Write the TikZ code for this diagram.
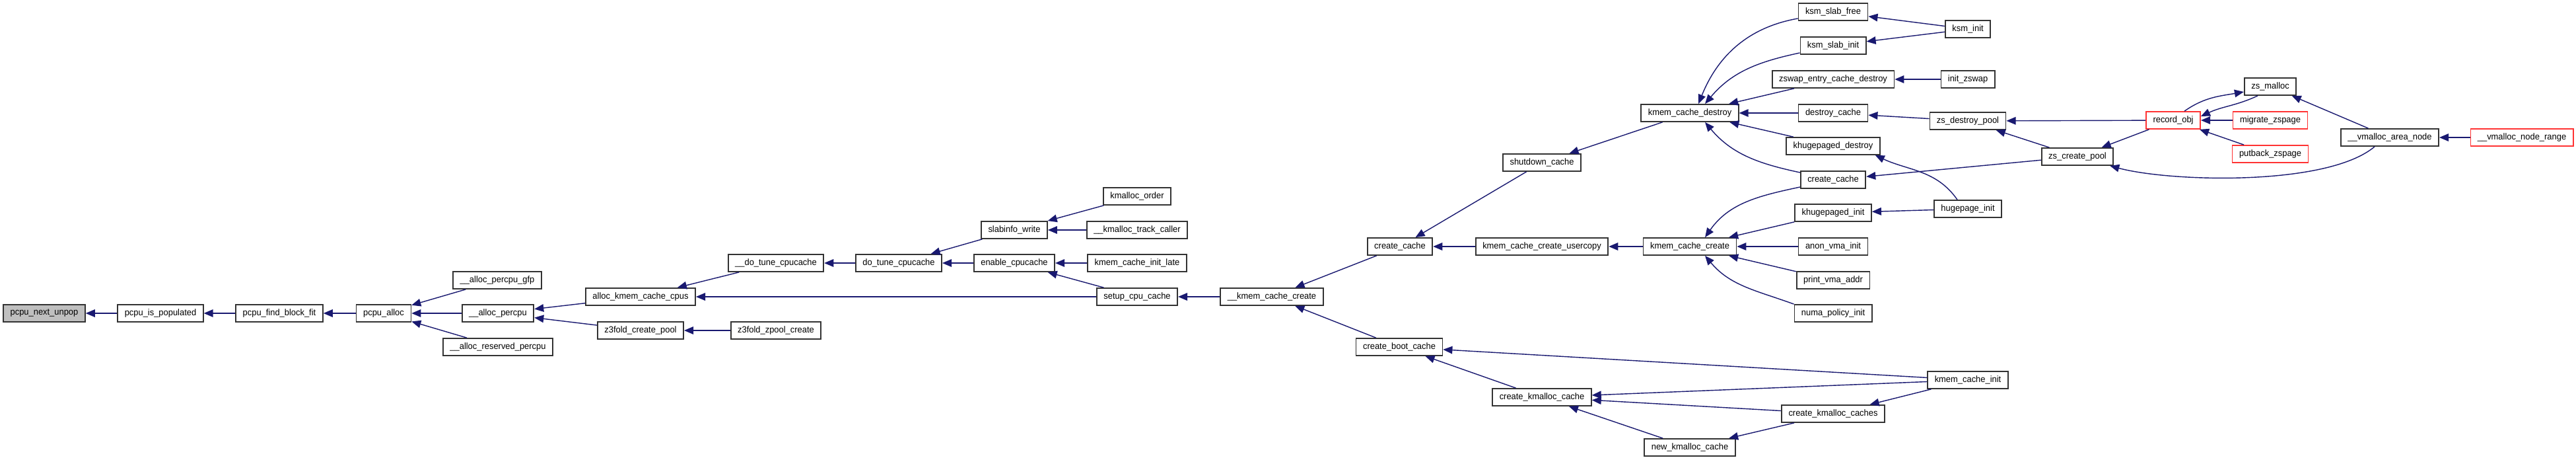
\documentclass[tikz,border=0pt]{standalone}
\usepackage{fontspec}
\setmainfont{Liberation Sans}[FakeStretch=0.955]
\usetikzlibrary{arrows.meta}

\definecolor{edgeblue}{HTML}{191970}
\definecolor{trunc}{HTML}{FF3333}
\definecolor{selfgray}{HTML}{BFBFBF}
\newcommand{\fnsize}{\fontsize{3.85pt}{4.5pt}\selectfont}

\begin{document}
\begin{tikzpicture}[
          fn/.style={draw=black!80, line width=0.5pt, fill=white, font=\fnsize,
            minimum height=0.26cm, inner xsep=0.105cm, inner ysep=0pt},
          fnred/.style={fn, draw=trunc},
          fnself/.style={fn, fill=selfgray},
          call/.style={edgeblue, line width=0.4pt, -{Triangle[length=4pt,width=3.3pt]}}
        ]
          \useasboundingbox (0,0) rectangle (39.01,-6.96);

          % Knoten
          \node[fnself] (nextunpop) at (0.67,-4.74) {pcpu\_next\_unpop};
          \node[fn] (ispop) at (2.43,-4.74) {pcpu\_is\_populated};
          \node[fn] (findfit) at (4.23,-4.74) {pcpu\_find\_block\_fit};
          \node[fn] (pcpualloc) at (5.81,-4.74) {pcpu\_alloc};
          \node[fn] (allocgfp) at (7.53,-4.24) {\_\_alloc\_percpu\_gfp};
          \node[fn] (allocpercpu) at (7.54,-4.74) {\_\_alloc\_percpu};
          \node[fn] (allocres) at (7.54,-5.25) {\_\_alloc\_reserved\_percpu};
          \node[fn] (allockmem) at (9.70,-4.49) {alloc\_kmem\_cache\_cpus};
          \node[fn] (zfoldpool) at (9.70,-5.00) {z3fold\_create\_pool};
          \node[fn] (dotunei) at (11.75,-3.98) {\_\_do\_tune\_cpucache};
          \node[fn] (zfoldzpool) at (11.75,-5.00) {z3fold\_zpool\_create};
          \node[fn] (dotune) at (13.61,-3.98) {do\_tune\_cpucache};
          \node[fn] (slabinfo) at (15.36,-3.48) {slabinfo\_write};
          \node[fn] (enablecc) at (15.36,-3.98) {enable\_cpucache};
          \node[fn] (kmorder) at (17.22,-2.97) {kmalloc\_order};
          \node[fn] (kmtrack) at (17.22,-3.48) {\_\_kmalloc\_track\_caller};
          \node[fn] (initlate) at (17.22,-3.98) {kmem\_cache\_init\_late};
          \node[fn] (setupcc) at (17.22,-4.49) {setup\_cpu\_cache};
          \node[fn] (kccreatei) at (19.26,-4.49) {\_\_kmem\_cache\_create};
          \node[fn] (createcache) at (21.20,-3.73) {create\_cache};
          \node[fn] (bootcache) at (21.19,-5.25) {create\_boot\_cache};
          \node[fn] (shutdown) at (23.35,-2.46) {shutdown\_cache};
          \node[fn] (usercopy) at (23.35,-3.73) {kmem\_cache\_create\_usercopy};
          \node[fn] (kmcache) at (23.35,-6.01) {create\_kmalloc\_cache};
          \node[fn] (kcdestroy) at (25.59,-1.71) {kmem\_cache\_destroy};
          \node[fn] (kccreate) at (25.59,-3.73) {kmem\_cache\_create};
          \node[fn] (newkm) at (25.59,-6.77) {new\_kmalloc\_cache};
          \node[fn] (ksmfree) at (27.76,-0.18) {ksm\_slab\_free};
          \node[fn] (ksmslabinit) at (27.76,-0.69) {ksm\_slab\_init};
          \node[fn] (zswapdestroy) at (27.76,-1.20) {zswap\_entry\_cache\_destroy};
          \node[fn] (destroycache) at (27.76,-1.71) {destroy\_cache};
          \node[fn] (khdestroy) at (27.76,-2.21) {khugepaged\_destroy};
          \node[fn] (createcachetwo) at (27.76,-2.72) {create\_cache};
          \node[fn] (khinit) at (27.76,-3.22) {khugepaged\_init};
          \node[fn] (anonvma) at (27.76,-3.73) {anon\_vma\_init};
          \node[fn] (printvma) at (27.76,-4.24) {print\_vma\_addr};
          \node[fn] (numainit) at (27.76,-4.74) {numa\_policy\_init};
          \node[fn] (kmcaches) at (27.76,-6.26) {create\_kmalloc\_caches};
          \node[fn] (ksminit) at (29.80,-0.44) {ksm\_init};
          \node[fn] (initzswap) at (29.80,-1.20) {init\_zswap};
          \node[fn] (zsdestroy) at (29.80,-1.83) {zs\_destroy\_pool};
          \node[fn] (hugeinit) at (29.80,-3.16) {hugepage\_init};
          \node[fn] (kcinit) at (29.80,-5.75) {kmem\_cache\_init};
          \node[fn] (zscreate) at (31.46,-2.37) {zs\_create\_pool};
          \node[fnred] (recordobj) at (32.91,-1.82) {record\_obj};
          \node[fn] (zsmalloc) at (34.38,-1.31) {zs\_malloc};
          \node[fnred] (migrate) at (34.38,-1.82) {migrate\_zspage};
          \node[fnred] (putback) at (34.38,-2.33) {putback\_zspage};
          \node[fn] (vmarea) at (36.19,-2.08) {\_\_vmalloc\_area\_node};
          \node[fnred] (vmrange) at (38.19,-2.08) {\_\_vmalloc\_node\_range};

          % Aufrufe (percpu)
          \draw[call] (ispop) -- (nextunpop);
          \draw[call] (findfit) -- (ispop);
          \draw[call] (pcpualloc) -- (findfit);
          \draw[call] (allocgfp) -- (pcpualloc);
          \draw[call] (allocpercpu) -- (pcpualloc);
          \draw[call] (allocres) -- (pcpualloc);
          \draw[call] (allockmem) -- (allocpercpu);
          \draw[call] (zfoldpool) -- (allocpercpu);
          \draw[call] (dotunei) -- (allockmem);
          \draw[call] (setupcc) -- (allockmem);
          \draw[call] (zfoldzpool) -- (zfoldpool);

          % Aufrufe (slab)
          \draw[call] (dotune) -- (dotunei);
          \draw[call] (slabinfo) -- (dotune);
          \draw[call] (enablecc) -- (dotune);
          \draw[call] (kmorder) -- (slabinfo);
          \draw[call] (kmtrack) -- (slabinfo);
          \draw[call] (initlate) -- (enablecc);
          \draw[call] (setupcc) -- (enablecc);
          \draw[call] (kccreatei) -- (setupcc);
          \draw[call] (createcache) -- (kccreatei);
          \draw[call] (bootcache) -- (kccreatei);
          \draw[call] (shutdown) -- (createcache);
          \draw[call] (usercopy) -- (createcache);
          \draw[call] (kcdestroy) -- (shutdown);
          \draw[call] (kccreate) -- (usercopy);
          \draw[call] (kmcache) -- (bootcache);
          \draw[call] (kcinit) -- (bootcache);
          \draw[call] (kcinit) -- (kmcache);
          \draw[call] (kmcaches) -- (kmcache);
          \draw[call] (newkm) -- (kmcache);
          \draw[call] (kmcaches) -- (newkm);
          \draw[call] (kcinit) -- (kmcaches);

          % Aufrufe (kmem_cache_destroy)
          \draw[call] ([yshift=-0.1cm]ksmfree.west) to[out=190,in=68] ([xshift=0.13cm]kcdestroy.north);
          \draw[call] ([yshift=-0.11cm]ksmslabinit.west) to[out=192,in=50] ([xshift=0.23cm]kcdestroy.north);
          \draw[call] (zswapdestroy) -- (kcdestroy);
          \draw[call] (destroycache) -- (kcdestroy);
          \draw[call] (khdestroy) -- (kcdestroy);
          \draw[call] ([yshift=0.11cm]createcachetwo.west) to[out=168,in=-50] ([xshift=0.23cm]kcdestroy.south);
          \draw[call] (ksminit) -- (ksmfree);
          \draw[call] (ksminit) -- (ksmslabinit);
          \draw[call] (initzswap) -- (zswapdestroy);
          \draw[call] (zsdestroy) -- (destroycache);
          \draw[call] ([xshift=-0.16cm]hugeinit.north) to[out=125,in=-25] ([xshift=-0.08cm]khdestroy.south east);
          \draw[call] (hugeinit) -- (khinit);

          % Aufrufe (kmem_cache_create)
          \draw[call] ([yshift=-0.11cm]createcachetwo.west) to[out=192,in=55] ([xshift=0.23cm]kccreate.north);
          \draw[call] (khinit) -- (kccreate);
          \draw[call] (anonvma) -- (kccreate);
          \draw[call] (printvma) -- (kccreate);
          \draw[call] (numainit.north west) to[out=160,in=-50] ([xshift=0.23cm]kccreate.south);

          % Aufrufe (zsmalloc)
          \draw[call] (zscreate) -- (createcachetwo);
          \draw[call] (zscreate) -- (zsdestroy);
          \draw[call] (recordobj) -- (zsdestroy);
          \draw[call] (recordobj) -- (zscreate);
          \draw[call] ([xshift=0.17cm]recordobj.north) to[out=35,in=190] ([yshift=-0.08cm]zsmalloc.west);
          \draw[call] ([xshift=-0.19cm]zsmalloc.south) to[out=-155,in=25] ([yshift=0.06cm]recordobj.east);
          \draw[call] (migrate) -- (recordobj);
          \draw[call] (putback) -- (recordobj);
          \draw[call] (vmarea) -- (zsmalloc);
          \draw[call] ([xshift=-0.23cm]vmarea.south) to[out=-140,in=-15,looseness=0.6] ([xshift=-0.06cm]zscreate.south east);
          \draw[call] (vmrange) -- (vmarea);
        \end{tikzpicture}
\end{document}
